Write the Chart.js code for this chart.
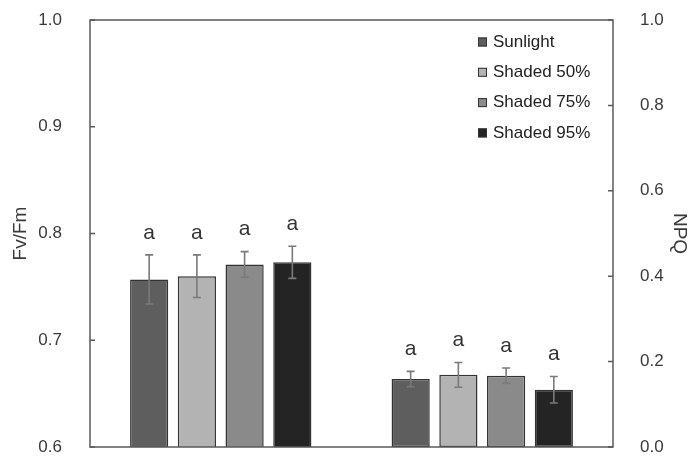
<!DOCTYPE html>
<html>
<head>
<meta charset="utf-8">
<script src="https://cdn.jsdelivr.net/npm/chart.js@4.4.0/dist/chart.umd.min.js"></script>
<style>
  html, body { margin: 0; padding: 0; background: #fff; }
  canvas { display: block; }
</style>
</head>
<body>
<canvas id="c" width="693" height="456"></canvas>
<script>
// Parameter groups (one per axis) and treatments
const groups = ['Fv/Fm', 'NPQ'];
const seriesNames = ['Sunlight', 'Shaded 50%', 'Shaded 75%', 'Shaded 95%'];

// Fv/Fm means and standard errors (left axis)
const fvfmValues = [0.757, 0.760, 0.771, 0.773];
const fvfmErrors = [0.023, 0.020, 0.012, 0.015];
const fvfmLetters = ['a', 'a', 'a', 'a'];

// NPQ means and standard errors (right axis)
const npqValues = [0.159, 0.169, 0.167, 0.134];
const npqErrors = [0.018, 0.029, 0.018, 0.031];
const npqLetters = ['a', 'a', 'a', 'a'];

// Axis tick values
const leftTicks = [0.6, 0.7, 0.8, 0.9, 1.0];
const rightTicks = [0.0, 0.2, 0.4, 0.6, 0.8, 1.0];

const fillColors = ['#5e5e5e', '#b3b3b3', '#8a8a8a', '#242424'];
const FONT = '"Liberation Sans", Arial, sans-serif';
const TEXT = '#3a3a3a';

// One dataset per treatment per axis; nulls are skipped so each group holds 4 bars
const datasets = [];
seriesNames.forEach((name, i) => {
  datasets.push({
    label: name, yAxisID: 'y',
    data: [fvfmValues[i], null],
    errors: [fvfmErrors[i], null],
    letters: [fvfmLetters[i], null],
    backgroundColor: fillColors[i]
  });
});
seriesNames.forEach((name, i) => {
  datasets.push({
    label: name, yAxisID: 'y1',
    data: [null, npqValues[i]],
    errors: [null, npqErrors[i]],
    letters: [null, npqLetters[i]],
    backgroundColor: fillColors[i]
  });
});

// Frame around the plot with short inward tick marks
const framePlugin = {
  id: 'frame',
  afterDatasetsDraw(chart) {
    const { ctx, chartArea: a } = chart;
    const yL = chart.scales.y, yR = chart.scales.y1;
    ctx.save();
    ctx.strokeStyle = '#5a5a5a';
    ctx.lineWidth = 1.5;
    ctx.strokeRect(a.left, a.top, a.right - a.left, a.bottom - a.top);
    ctx.beginPath();
    leftTicks.forEach(v => {
      const py = yL.getPixelForValue(v);
      ctx.moveTo(a.left, py); ctx.lineTo(a.left + 5, py);
    });
    rightTicks.forEach(v => {
      const py = yR.getPixelForValue(v);
      ctx.moveTo(a.right, py); ctx.lineTo(a.right - 5, py);
    });
    ctx.stroke();
    ctx.restore();
  }
};

// Error bars and significance letters above each bar
const errorPlugin = {
  id: 'errorBars',
  afterDatasetsDraw(chart) {
    const { ctx } = chart;
    ctx.save();
    chart.data.datasets.forEach((ds, di) => {
      const meta = chart.getDatasetMeta(di);
      const scale = chart.scales[ds.yAxisID];
      meta.data.forEach((bar, idx) => {
        const v = ds.data[idx];
        if (v === null || v === undefined) return;
        const e = ds.errors[idx];
        const x = bar.x;
        const top = scale.getPixelForValue(v + e);
        const bot = scale.getPixelForValue(v - e);
        ctx.strokeStyle = '#7a7a7a';
        ctx.lineWidth = 1.6;
        ctx.beginPath();
        ctx.moveTo(x, top); ctx.lineTo(x, bot);
        ctx.moveTo(x - 4, top); ctx.lineTo(x + 4, top);
        ctx.moveTo(x - 4, bot); ctx.lineTo(x + 4, bot);
        ctx.stroke();
        ctx.fillStyle = '#333';
        ctx.font = '21px ' + FONT;
        ctx.textAlign = 'center';
        ctx.textBaseline = 'middle';
        ctx.fillText(ds.letters[idx], x, top - 22);
      });
    });
    ctx.restore();
  }
};

// Vertical legend in the upper right of the plot
const legendPlugin = {
  id: 'sideLegend',
  afterDraw(chart) {
    const { ctx } = chart;
    ctx.save();
    ctx.font = '17px ' + FONT;
    ctx.textBaseline = 'middle';
    ctx.textAlign = 'left';
    seriesNames.forEach((name, i) => {
      const cy = 42 + i * 30.3;
      ctx.fillStyle = fillColors[i];
      ctx.fillRect(478, cy - 4.5, 9, 9);
      ctx.strokeStyle = '#333';
      ctx.lineWidth = 1;
      ctx.strokeRect(478.5, cy - 4, 8, 8);
      ctx.fillStyle = '#222';
      ctx.fillText(name, 493, cy);
    });
    ctx.restore();
  }
};

// Fixed axis widths and no extra label padding, so the plot spans 90..613 x 20..447
const fixLeft = s => { s.width = 90; s.paddingTop = 0; s.paddingBottom = 0; };
const fixRight = s => { s.width = 80; s.paddingTop = 0; s.paddingBottom = 0; };

new Chart(document.getElementById('c'), {
  type: 'bar',
  data: { labels: groups, datasets },
  options: {
    responsive: false,
    animation: false,
    devicePixelRatio: 1,
    layout: { padding: { top: 20, bottom: 9, left: 0, right: 0 } },
    datasets: {
      bar: {
        skipNull: true,
        categoryPercentage: 0.73,
        barPercentage: 0.8,
        borderColor: '#333',
        borderWidth: 1.5,
        borderSkipped: false
      }
    },
    plugins: { legend: { display: false }, tooltip: { enabled: false } },
    scales: {
      x: { display: false },
      y: {
        position: 'left',
        min: 0.6, max: 1.0,
        afterBuildTicks: s => { s.ticks = leftTicks.map(v => ({ value: v })); },
        afterFit: fixLeft,
        grid: { display: false },
        border: { display: false },
        ticks: {
          padding: 20,
          color: TEXT,
          font: { family: FONT, size: 17 },
          callback: v => Number(v).toFixed(1)
        },
        title: {
          display: true, text: 'Fv/Fm', color: TEXT,
          font: { family: FONT, size: 19 },
          padding: { top: 9, bottom: 0 }
        }
      },
      y1: {
        position: 'right',
        min: 0, max: 1.0,
        afterBuildTicks: s => { s.ticks = rightTicks.map(v => ({ value: v })); },
        afterFit: fixRight,
        grid: { display: false },
        border: { display: false },
        ticks: {
          padding: 19,
          color: TEXT,
          font: { family: FONT, size: 17 },
          callback: v => Number(v).toFixed(1)
        },
        title: {
          display: true, text: 'NPQ', color: TEXT,
          font: { family: FONT, size: 19 },
          padding: { top: 2, bottom: 0 }
        }
      }
    }
  },
  plugins: [framePlugin, errorPlugin, legendPlugin]
});
</script>
</body>
</html>
